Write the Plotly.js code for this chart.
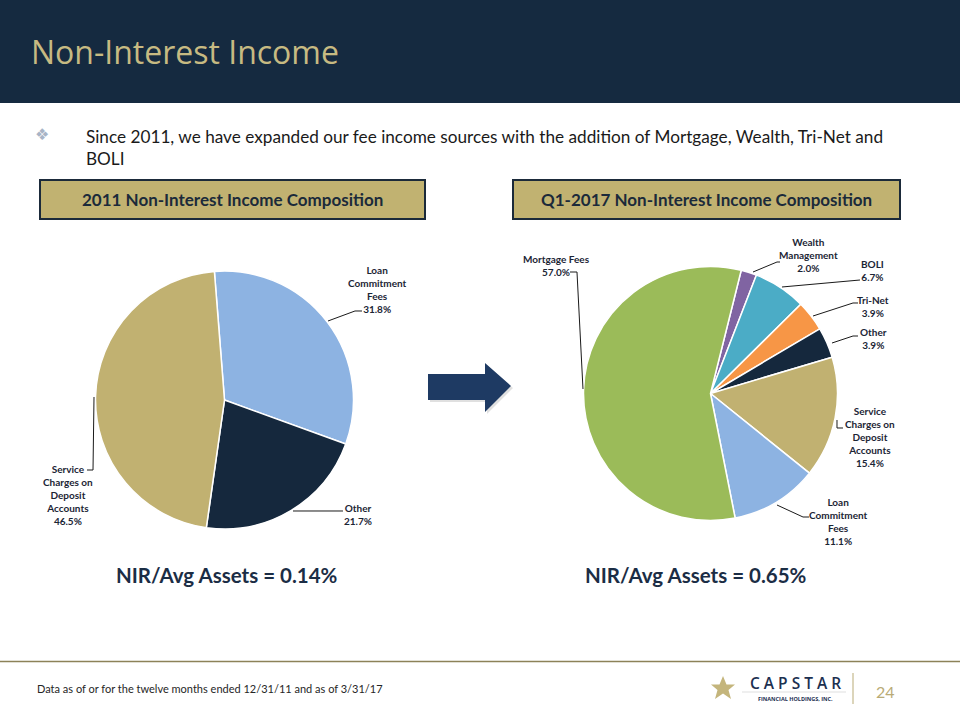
<!DOCTYPE html>
<html>
<head>
<meta charset="utf-8">
<script src="https://cdn.plot.ly/plotly-3.0.1.min.js"></script>
<style>
html,body{margin:0;padding:0;background:#fff;}
#chart{width:960px;height:720px;}
</style>
</head>
<body>
<div id="chart"></div>
<script>
// ---- data ----
var title2011 = "2011 Non-Interest Income Composition";
var titleQ12017 = "Q1-2017 Non-Interest Income Composition";
var labels2011 = ["Loan Commitment Fees", "Other", "Service Charges on Deposit Accounts"];
var shortLabels2011 = ["Loan<br>Commitment<br>Fees", "Other", "Service<br>Charges on<br>Deposit<br>Accounts"];
var values2011 = [31.8, 21.7, 46.5];
var colors2011 = ["#8DB3E2", "#15283D", "#C1B171"];

var labels2017 = ["Wealth Management", "BOLI", "Tri-Net", "Other", "Service Charges on Deposit Accounts", "Loan Commitment Fees", "Mortgage Fees"];
var shortLabels2017 = ["Wealth<br>Management", "BOLI", "Tri-Net", "Other", "Service<br>Charges on<br>Deposit<br>Accounts", "Loan<br>Commitment<br>Fees", "Mortgage Fees"];
var values2017 = [2.0, 6.7, 3.9, 3.9, 15.4, 11.1, 57.0];
var colors2017 = ["#8064A2", "#4BACC6", "#F79646", "#15283D", "#C1B171", "#8DB3E2", "#9BBB59"];

var nir2011 = "NIR/Avg Assets = 0.14%";
var nir2017 = "NIR/Avg Assets = 0.65%";
var pageTitle = "Non-Interest Income";
var bulletText = "Since 2011, we have expanded our fee income sources with the addition of Mortgage, Wealth, Tri-Net and<br>BOLI";
var footnote = "Data as of or for the twelve months ended 12/31/11 and as of 3/31/17";
var pageNumber = "24";

// ---- helpers (layout positions in pixels -> paper) ----
var W = 960, H = 720;
function px(x){ return x / W; }
function py(y){ return 1 - y / H; }
function pathPx(pts, close){
  var s = pts.map(function(p,i){ return (i? "L":"M") + px(p[0]).toFixed(5) + "," + py(p[1]).toFixed(5); }).join(" ");
  return s + (close ? " Z" : "");
}
function lbl(short, v){ return "<b>" + short + "<br>" + v.toFixed(1) + "%</b>"; }

var F = "Lato, 'Open Sans', sans-serif";
var labelColor = "#1B2535";

var traces = [
  {
    type: "pie", labels: labels2011, values: values2011, sort: false,
    direction: "clockwise", rotation: -4.5,
    marker: {colors: colors2011, line: {color: "#ffffff", width: 1.5}},
    textinfo: "none", hoverinfo: "skip", showlegend: false,
    domain: {x: [px(95.5), px(353.5)], y: [py(529), py(271)]}
  },
  {
    type: "pie", labels: labels2017, values: values2017, sort: false,
    direction: "clockwise", rotation: 14,
    marker: {colors: colors2017, line: {color: "#ffffff", width: 1.5}},
    textinfo: "none", hoverinfo: "skip", showlegend: false,
    domain: {x: [px(583.5), px(837.5)], y: [py(520.5), py(266.5)]}
  }
];

var shapes = [
  // header band
  {type: "rect", xref: "paper", yref: "paper", x0: 0, x1: 1, y0: py(103), y1: 1, fillcolor: "#152A40", line: {width: 0}, layer: "below"},
  // title boxes
  {type: "rect", xref: "paper", yref: "paper", x0: px(40), x1: px(425), y0: py(219), y1: py(180), fillcolor: "#C1B271", line: {color: "#1B2A3A", width: 2}},
  {type: "rect", xref: "paper", yref: "paper", x0: px(513), x1: px(900), y0: py(219), y1: py(180), fillcolor: "#C1B271", line: {color: "#1B2A3A", width: 2}},
  // arrow shadow + arrow
  {type: "path", xref: "paper", yref: "paper", path: pathPx([[430,376],[487,376],[487,365],[513,388],[487,414],[487,402],[430,402]], true), fillcolor: "rgba(0,0,0,0.12)", line: {width: 0}},
  {type: "path", xref: "paper", yref: "paper", path: pathPx([[428,374],[485,374],[485,363],[511,386],[485,412],[485,400],[428,400]], true), fillcolor: "#1E3A63", line: {width: 0}},
  // footer line
  {type: "line", xref: "paper", yref: "paper", x0: 0, x1: 1, y0: py(661.5), y1: py(661.5), line: {color: "#8C8258", width: 1.5}},
  // logo divider
  {type: "line", xref: "paper", yref: "paper", x0: px(853), x1: px(853), y0: py(673), y1: py(704), line: {color: "#B9AB76", width: 1}},
  // logo thin rule
  {type: "line", xref: "paper", yref: "paper", x0: px(742), x1: px(846), y0: py(692), y1: py(692), line: {color: "#C9C9C9", width: 0.6}},
  // star
  {type: "path", xref: "paper", yref: "paper", path: pathPx([[723,676],[726.5,684.5],[735,684.5],[728.5,690],[731,699],[723,693.5],[715,699],[717.5,690],[711,684.5],[719.5,684.5]], true), fillcolor: "#C4B57C", line: {width: 0}},
  // leader lines, 2011
  {type: "path", xref: "paper", yref: "paper", path: pathPx([[328,321],[355,311],[362,311]]), line: {color: "#1A1A1A", width: 1}},
  {type: "path", xref: "paper", yref: "paper", path: pathPx([[293,511],[343,511]]), line: {color: "#1A1A1A", width: 1}},
  {type: "path", xref: "paper", yref: "paper", path: pathPx([[87,470],[93,470],[94,397]]), line: {color: "#1A1A1A", width: 1}},
  // leader lines, 2017
  {type: "path", xref: "paper", yref: "paper", path: pathPx([[570,272],[577,272],[583,389]]), line: {color: "#1A1A1A", width: 1}},
  {type: "path", xref: "paper", yref: "paper", path: pathPx([[753,272],[777,262],[780,262]]), line: {color: "#1A1A1A", width: 1}},
  {type: "path", xref: "paper", yref: "paper", path: pathPx([[782,287],[860,280]]), line: {color: "#1A1A1A", width: 1}},
  {type: "path", xref: "paper", yref: "paper", path: pathPx([[813,316],[853,303],[858,303]]), line: {color: "#1A1A1A", width: 1}},
  {type: "path", xref: "paper", yref: "paper", path: pathPx([[832,343],[853,336],[858,336]]), line: {color: "#1A1A1A", width: 1}},
  {type: "path", xref: "paper", yref: "paper", path: pathPx([[837,420],[837,428],[843,428]]), line: {color: "#1A1A1A", width: 1}},
  {type: "path", xref: "paper", yref: "paper", path: pathPx([[777,505],[803,517],[809,517]]), line: {color: "#1A1A1A", width: 1}}
];

function ann(text, x, y, opts){
  var a = {text: text, x: px(x), y: py(y), xref: "paper", yref: "paper", showarrow: false,
           xanchor: "center", yanchor: "middle", font: {family: F, size: 10, color: labelColor}};
  for (var k in opts){ a[k] = opts[k]; }
  return a;
}

var annotations = [
  ann(pageTitle, 29, 52, {xanchor: "left", font: {family: "'Open Sans', sans-serif", size: 32, color: "#C7BA82"}}),
  ann("❖", 42, 134, {font: {family: "DejaVu Sans", size: 16, color: "#A8B4C6"}}),
  ann(bulletText, 84, 147.5, {xanchor: "left", align: "left", font: {family: F, size: 17.2, color: "#1A1A1A"}}),
  ann("<b>" + title2011 + "</b>", 232.5, 199.5, {font: {family: F, size: 17, color: "#1B2A3A"}}),
  ann("<b>" + titleQ12017 + "</b>", 706.5, 199.5, {font: {family: F, size: 17, color: "#1B2A3A"}}),
  // pie labels 2011
  ann(lbl(shortLabels2011[0], values2011[0]), 377, 289.5),
  ann(lbl(shortLabels2011[1], values2011[1]), 358, 514.5),
  ann(lbl(shortLabels2011[2], values2011[2]), 68, 495),
  // pie labels 2017
  ann(lbl(shortLabels2017[0], values2017[0]), 808, 255),
  ann(lbl(shortLabels2017[1], values2017[1]), 872, 270.5),
  ann(lbl(shortLabels2017[2], values2017[2]), 873, 306.5),
  ann(lbl(shortLabels2017[3], values2017[3]), 873, 338.5),
  ann(lbl(shortLabels2017[4], values2017[4]), 870, 437.5),
  ann(lbl(shortLabels2017[5], values2017[5]), 838, 521),
  ann(lbl(shortLabels2017[6], values2017[6]), 556, 265.5),
  // NIR
  ann("<b>" + nir2011 + "</b>", 227, 575, {font: {family: F, size: 20.5, color: "#1B2D45"}}),
  ann("<b>" + nir2017 + "</b>", 696, 575, {font: {family: F, size: 20.5, color: "#1B2D45"}}),
  // footer
  ann(footnote, 35, 688, {xanchor: "left", font: {family: F, size: 11, color: "#262626"}}),
  ann("C A P S T A R", 795, 683, {font: {family: "'Open Sans', sans-serif", size: 15.5, weight: 600, color: "#1C3050"}}),
  ann("<b>FINANCIAL HOLDINGS, INC.</b>", 795, 699, {font: {family: "'Open Sans', sans-serif", size: 5.5, color: "#1C3050"}}),
  ann(pageNumber, 885, 691, {font: {family: F, size: 16, color: "#B9AB76"}})
];

var layout = {
  width: W, height: H,
  margin: {l: 0, r: 0, t: 0, b: 0},
  paper_bgcolor: "#ffffff", plot_bgcolor: "#ffffff",
  showlegend: false,
  shapes: shapes,
  annotations: annotations
};

Plotly.newPlot("chart", traces, layout, {staticPlot: true, displayModeBar: false});
</script>
</body>
</html>
